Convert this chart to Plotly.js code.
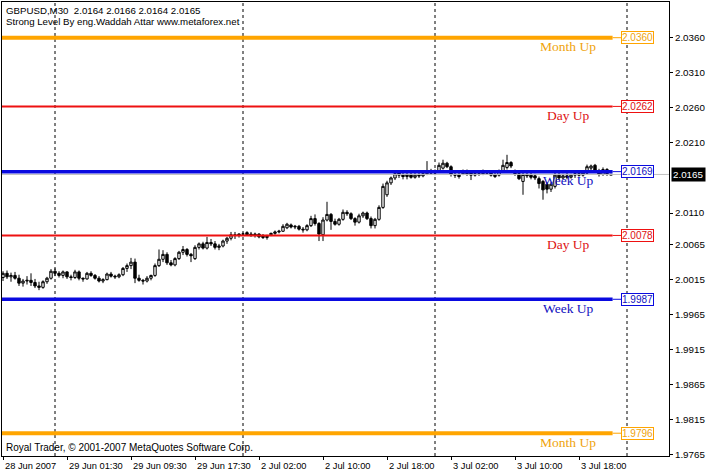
<!DOCTYPE html>
<html>
<head>
<meta charset="utf-8">
<script src="https://cdn.plot.ly/plotly-3.0.1.min.js"></script>
<style>
html,body{margin:0;padding:0;background:#fff;}
#chart{width:707px;height:476px;}
</style>
</head>
<body>
<div id="chart"></div>
<script>
// ---- DATA ----
const opens = [2.0018,2.0024,2.0019,2.0021,2.0017,2.0010,2.0013,2.0014,2.0011,2.0006,
2.0004,2.0012,2.0017,2.0027,2.0024,2.0021,2.0026,2.0019,2.0018,2.0026,
2.0017,2.0016,2.0024,2.0021,2.0017,2.0013,2.0015,2.0023,2.0020,2.0019,
2.0022,2.0031,2.0035,2.0040,2.0017,2.0014,2.0013,2.0017,2.0021,2.0035,
2.0044,2.0051,2.0039,2.0036,2.0045,2.0054,2.0058,2.0051,2.0045,2.0061,
2.0066,2.0060,2.0068,2.0066,2.0061,2.0063,2.0070,2.0074,2.0079,2.0078,
2.0080,2.0082,2.0080,2.0078,2.0080,2.0078,2.0075,2.0079,2.0081,2.0083,
2.0084,2.0089,2.0093,2.0090,2.0091,2.0087,2.0086,2.0092,2.0102,2.0095,
2.0079,2.0100,2.0108,2.0098,2.0094,2.0101,2.0111,2.0109,2.0102,2.0097,
2.0106,2.0110,2.0102,2.0092,2.0101,2.0118,2.0136,2.0153,2.0160,2.0167,
2.0164,2.0162,2.0165,2.0161,2.0164,2.0163,2.0166,2.0170,2.0167,2.0170,
2.0174,2.0181,2.0176,2.0165,2.0164,2.0166,2.0170,2.0168,2.0164,2.0166,
2.0166,2.0168,2.0167,2.0162,2.0164,2.0170,2.0175,2.0182,2.0170,2.0166,
2.0155,2.0165,2.0164,2.0163,2.0159,2.0155,2.0151,2.0144,2.0148,2.0164,
2.0160,2.0163,2.0161,2.0164,2.0166,2.0164,2.0167,2.0174,2.0178,2.0170,
2.0165,2.0172,2.0164];
const highs = [2.0027,2.0028,2.0025,2.0026,2.0022,2.0016,2.0020,2.0024,2.0016,2.0012,
2.0014,2.0019,2.0030,2.0031,2.0027,2.0028,2.0027,2.0022,2.0029,2.0028,
2.0018,2.0026,2.0027,2.0023,2.0020,2.0017,2.0025,2.0026,2.0022,2.0024,
2.0033,2.0038,2.0046,2.0045,2.0022,2.0016,2.0020,2.0022,2.0038,2.0058,
2.0057,2.0054,2.0043,2.0047,2.0056,2.0063,2.0060,2.0053,2.0064,2.0068,
2.0069,2.0076,2.0073,2.0070,2.0066,2.0072,2.0076,2.0083,2.0083,2.0081,
2.0082,2.0084,2.0083,2.0082,2.0081,2.0080,2.0079,2.0082,2.0085,2.0086,
2.0094,2.0096,2.0095,2.0093,2.0093,2.0090,2.0094,2.0106,2.0108,2.0097,
2.0104,2.0126,2.0110,2.0102,2.0103,2.0115,2.0114,2.0111,2.0104,2.0109,
2.0112,2.0112,2.0105,2.0103,2.0121,2.0152,2.0156,2.0162,2.0168,2.0170,
2.0169,2.0167,2.0168,2.0167,2.0168,2.0169,2.0184,2.0173,2.0172,2.0182,
2.0186,2.0183,2.0178,2.0170,2.0168,2.0172,2.0172,2.0171,2.0168,2.0169,
2.0172,2.0170,2.0169,2.0167,2.0172,2.0186,2.0193,2.0184,2.0172,2.0168,
2.0167,2.0168,2.0168,2.0166,2.0162,2.0157,2.0154,2.0154,2.0168,2.0167,
2.0166,2.0167,2.0166,2.0168,2.0169,2.0170,2.0179,2.0179,2.0180,2.0173,
2.0175,2.0174,2.0166];
const lows = [2.0013,2.0016,2.0012,2.0015,2.0006,2.0005,2.0008,2.0006,2.0003,2.0000,
2.0002,2.0009,2.0015,2.0020,2.0018,2.0017,2.0016,2.0014,2.0016,2.0014,
2.0012,2.0015,2.0019,2.0015,2.0011,2.0010,2.0014,2.0018,2.0016,2.0017,
2.0020,2.0026,2.0030,2.0010,2.0012,2.0008,2.0011,2.0014,2.0019,2.0033,
2.0040,2.0036,2.0034,2.0034,2.0043,2.0050,2.0048,2.0040,2.0043,2.0058,
2.0058,2.0058,2.0063,2.0058,2.0057,2.0061,2.0066,2.0071,2.0073,2.0075,
2.0078,2.0078,2.0076,2.0075,2.0074,2.0073,2.0072,2.0077,2.0079,2.0081,
2.0083,2.0087,2.0088,2.0087,2.0085,2.0082,2.0084,2.0090,2.0092,2.0070,
2.0070,2.0098,2.0086,2.0092,2.0092,2.0099,2.0106,2.0100,2.0092,2.0095,
2.0103,2.0100,2.0088,2.0088,2.0099,2.0116,2.0133,2.0150,2.0157,2.0160,
2.0158,2.0158,2.0159,2.0159,2.0160,2.0161,2.0164,2.0165,2.0164,2.0167,
2.0172,2.0174,2.0162,2.0160,2.0159,2.0164,2.0163,2.0157,2.0162,2.0163,
2.0164,2.0165,2.0162,2.0160,2.0162,2.0168,2.0172,2.0174,2.0163,2.0157,
2.0136,2.0160,2.0158,2.0157,2.0145,2.0129,2.0138,2.0140,2.0145,2.0157,
2.0158,2.0158,2.0159,2.0160,2.0162,2.0162,2.0165,2.0170,2.0168,2.0162,
2.0163,2.0163,2.0164];
const closes = [2.0024,2.0019,2.0021,2.0017,2.0010,2.0013,2.0014,2.0011,2.0006,2.0004,
2.0012,2.0017,2.0027,2.0024,2.0021,2.0026,2.0019,2.0018,2.0026,2.0017,
2.0016,2.0024,2.0021,2.0017,2.0013,2.0015,2.0023,2.0020,2.0019,2.0022,
2.0031,2.0035,2.0040,2.0017,2.0014,2.0013,2.0017,2.0021,2.0035,2.0044,
2.0051,2.0039,2.0036,2.0045,2.0054,2.0058,2.0051,2.0049,2.0061,2.0066,
2.0060,2.0068,2.0066,2.0061,2.0063,2.0070,2.0074,2.0079,2.0078,2.0080,
2.0080,2.0079,2.0078,2.0080,2.0076,2.0075,2.0077,2.0081,2.0083,2.0084,
2.0091,2.0094,2.0090,2.0091,2.0087,2.0086,2.0092,2.0102,2.0095,2.0080,
2.0100,2.0108,2.0098,2.0094,2.0101,2.0111,2.0109,2.0102,2.0097,2.0106,
2.0110,2.0102,2.0092,2.0101,2.0118,2.0148,2.0153,2.0160,2.0166,2.0164,
2.0162,2.0165,2.0161,2.0164,2.0163,2.0166,2.0170,2.0167,2.0170,2.0178,
2.0181,2.0176,2.0165,2.0164,2.0162,2.0170,2.0166,2.0164,2.0166,2.0165,
2.0168,2.0167,2.0164,2.0165,2.0170,2.0178,2.0182,2.0177,2.0166,2.0159,
2.0165,2.0163,2.0161,2.0160,2.0152,2.0143,2.0144,2.0151,2.0164,2.0160,
2.0163,2.0161,2.0164,2.0166,2.0164,2.0167,2.0176,2.0177,2.0170,2.0165,
2.0172,2.0166,2.0165];

const levelNames  = ['Month Up','Day Up','Week Up','Day Up','Week Up','Month Up'];
const levelValues = [2.0360, 2.0262, 2.0169, 2.0078, 1.9987, 1.9796];
const levelKinds  = ['month','day','week','day','week','month'];

const timeTickBars   = [0,16,32,48,64,80,96,112,128,144];
const timeTickLabels = ['28 Jun 2007','29 Jun 01:30','29 Jun 09:30','29 Jun 17:30','2 Jul 02:00',
                        '2 Jul 10:00','2 Jul 18:00','3 Jul 02:00','3 Jul 10:00','3 Jul 18:00'];
const daySeparatorBars = [13, 60, 108, 156];

const priceTicks = [2.0360,2.0310,2.0260,2.0210,2.0110,2.0065,2.0015,1.9965,1.9915,1.9865,1.9815,1.9765];
const currentPrice = 2.0165;
const headerLine1 = 'GBPUSD,M30\u00a0\u00a02.0164 2.0166 2.0164 2.0165';
const headerLine2 = 'Strong Level By eng.Waddah Attar www.metaforex.net';
const footerText  = 'Royal Trader, \u00a9 2001-2007 MetaQuotes Software Corp.';

// ---- STYLE ----
const kindStyle = {
  month: {line:'#FFA500', text:'#EFA30C', width:4},
  day:   {line:'#EE1111', text:'#DD1111', width:2},
  week:  {line:'#0A0AE0', text:'#1010C0', width:3.5}
};
const bars = opens.map((_, i) => i);
const lastBar = bars[bars.length - 1];
const xRange = [-0.25, 166.5];
const lineEnd = lastBar + 0.4;
const boxCenter = lastBar + 6.5;
const labelCenter = lastBar - 10.75;
const sansFont = 'Liberation Sans, Arial, sans-serif';
const serifFont = 'Liberation Serif, Times New Roman, serif';

const trace = {
  type: 'candlestick',
  x: bars, open: opens, high: highs, low: lows, close: closes,
  increasing: {line: {color: '#000', width: 1}, fillcolor: '#fff'},
  decreasing: {line: {color: '#000', width: 1}, fillcolor: '#000'},
  whiskerwidth: 0,
  hoverinfo: 'skip',
  showlegend: false
};

const shapes = [];
const annotations = [];

// current price line
shapes.push({type:'line', xref:'paper', x0:0, x1:1, yref:'y', y0:currentPrice, y1:currentPrice,
             line:{color:'#C0C0C0', width:1}});

// day separators
daySeparatorBars.forEach(b => {
  shapes.push({type:'line', xref:'x', x0:b, x1:b, yref:'paper', y0:0, y1:1,
               line:{color:'#000', width:1, dash:'3px,3px'}});
});

// levels
levelValues.forEach((v, i) => {
  const st = kindStyle[levelKinds[i]];
  shapes.push({type:'line', xref:'x', x0:xRange[0], x1:lineEnd, yref:'y', y0:v, y1:v,
               line:{color:st.line, width:st.width}});
  shapes.push({type:'line', xref:'x', x0:lineEnd, x1:boxCenter - 3.6, yref:'y', y0:v, y1:v,
               line:{color:st.line, width:1}});
  annotations.push({xref:'x', yref:'y', x:boxCenter, y:v, text:v.toFixed(4), showarrow:false,
    xanchor:'center', yanchor:'middle', bgcolor:'#fff', bordercolor:st.line, borderwidth:1, borderpad:0,
    font:{family:sansFont, size:10, color:st.text}});
  annotations.push({xref:'x', yref:'y', x:labelCenter, y:v, yshift:-9, text:levelNames[i], showarrow:false,
    xanchor:'center', yanchor:'middle', font:{family:serifFont, size:13.5, color:st.text}});
});

// time labels
timeTickBars.forEach((b, i) => {
  annotations.push({xref:'x', yref:'paper', x:b, y:0, yshift:-3, text:timeTickLabels[i], showarrow:false,
    xanchor:'left', yanchor:'top', font:{family:sansFont, size:9.3, color:'#000'}});
});

// current price tag
annotations.push({xref:'paper', yref:'y', x:1, xshift:2, y:currentPrice, text:currentPrice.toFixed(4),
  showarrow:false, xanchor:'left', yanchor:'middle', bgcolor:'#000', borderpad:1,
  font:{family:sansFont, size:9.8, color:'#fff'}});

// header & footer
annotations.push({xref:'paper', yref:'paper', x:0, xshift:2, y:1, yshift:-1, text:headerLine1, showarrow:false,
  xanchor:'left', yanchor:'top', font:{family:sansFont, size:9.7, color:'#000'}});
annotations.push({xref:'paper', yref:'paper', x:0, xshift:2, y:1, yshift:-11.5, text:headerLine2, showarrow:false,
  xanchor:'left', yanchor:'top', font:{family:sansFont, size:9.7, color:'#000'}});
annotations.push({xref:'paper', yref:'paper', x:0, xshift:2, y:0, yshift:1, text:footerText, showarrow:false,
  xanchor:'left', yanchor:'bottom', font:{family:sansFont, size:10, color:'#000'}});

const layout = {
  width: 707, height: 476,
  margin: {l:2, r:38, t:2, b:20, pad:0},
  paper_bgcolor: '#fff', plot_bgcolor: '#fff',
  showlegend: false,
  dragmode: false,
  boxgap: 0.15,
  xaxis: {
    range: xRange, showgrid:false, zeroline:false,
    showline:true, mirror:true, linecolor:'#000', linewidth:1,
    tickvals: timeTickBars, ticks:'outside', ticklen:3, tickcolor:'#000',
    showticklabels:false, rangeslider:{visible:false}, fixedrange:true
  },
  yaxis: {
    range: [1.97635, 2.04109], side:'right', showgrid:false, zeroline:false,
    showline:true, mirror:true, linecolor:'#000', linewidth:1,
    tickvals: priceTicks, ticktext: priceTicks.map(v => v.toFixed(4)),
    ticks:'outside', ticklen:3, tickcolor:'#000',
    tickfont:{family:sansFont, size:9.8, color:'#000'}, fixedrange:true
  },
  shapes: shapes,
  annotations: annotations
};

Plotly.newPlot('chart', [trace], layout, {displayModeBar:false, staticPlot:true});
</script>
</body>
</html>
